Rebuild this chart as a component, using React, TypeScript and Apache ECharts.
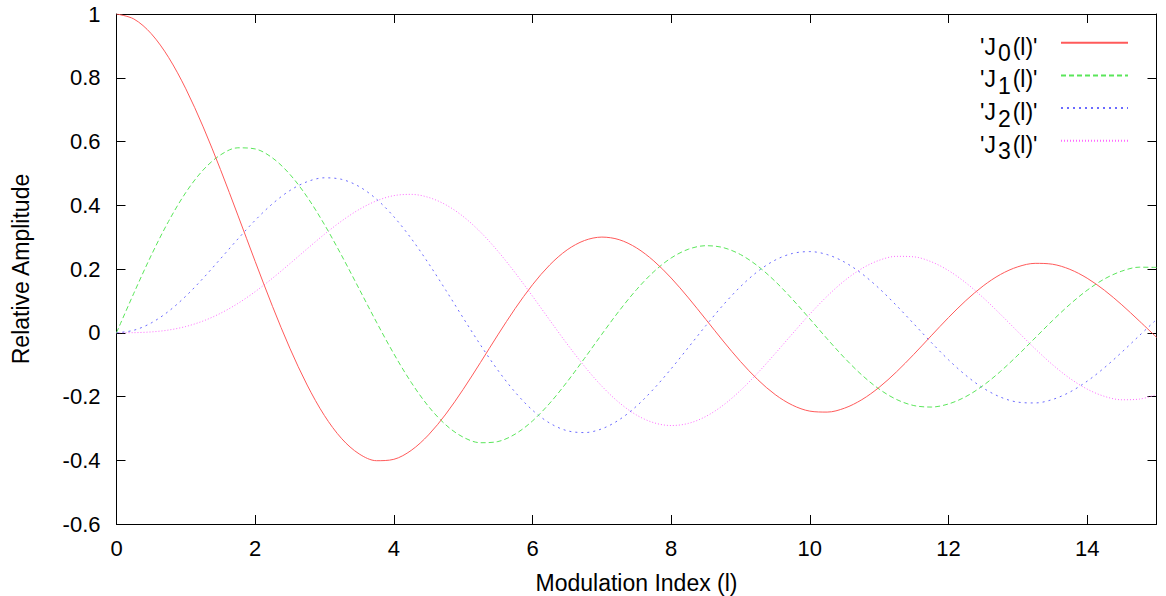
import React, { useEffect, useRef } from "react";
import * as echarts from "echarts";

const xValues = [
  0, 0.25, 0.5, 0.75, 1, 1.25, 1.5, 1.75, 2, 2.25, 2.5, 2.75, 3, 3.25, 3.5, 3.75,
  4, 4.25, 4.5, 4.75, 5, 5.25, 5.5, 5.75, 6, 6.25, 6.5, 6.75, 7, 7.25, 7.5, 7.75,
  8, 8.25, 8.5, 8.75, 9, 9.25, 9.5, 9.75, 10, 10.25, 10.5, 10.75, 11, 11.25, 11.5, 11.75,
  12, 12.25, 12.5, 12.75, 13, 13.25, 13.5, 13.75, 14, 14.25, 14.5, 14.75, 15,
];

const j0 = [
  1.0, 0.9844, 0.9385, 0.8642, 0.7652, 0.6459, 0.5118, 0.369, 0.2239, 0.0827, -0.0484, -0.1641,
  -0.2601, -0.3327, -0.3801, -0.4014, -0.3971, -0.3692, -0.3205, -0.2551, -0.1776, -0.0931, -0.0068, 0.076,
  0.1506, 0.2131, 0.2601, 0.2894, 0.3001, 0.292, 0.2663, 0.2252, 0.1717, 0.1092, 0.0419, -0.0259,
  -0.0903, -0.1474, -0.1939, -0.2273, -0.2459, -0.2489, -0.2366, -0.21, -0.1712, -0.1226, -0.0677, -0.0097,
  0.0477, 0.1009, 0.1469, 0.1829, 0.2069, 0.2177, 0.215, 0.199, 0.1711, 0.1331, 0.0876, 0.0374, -0.0142,
];

const j1 = [
  0, 0.124, 0.2423, 0.3492, 0.4401, 0.5106, 0.5579, 0.5802, 0.5767, 0.5484, 0.4971, 0.426,
  0.3391, 0.2411, 0.1374, 0.0332, -0.066, -0.1555, -0.2311, -0.2891, -0.3276, -0.345, -0.3414, -0.3179,
  -0.2767, -0.2207, -0.1538, -0.0803, -0.0047, 0.0686, 0.1352, 0.1916, 0.2346, 0.2622, 0.2731, 0.2672,
  0.2453, 0.2091, 0.1613, 0.1048, 0.0435, -0.019, -0.0789, -0.1325, -0.1768, -0.2093, -0.2284, -0.2331,
  -0.2234, -0.2003, -0.1655, -0.1212, -0.0703, -0.0161, 0.0381, 0.0889, 0.1334, 0.1689, 0.1934, 0.2057, 0.2051,
];

const j2 = [
  0, 0.0078, 0.0306, 0.0671, 0.1149, 0.1711, 0.2321, 0.294, 0.3528, 0.4047, 0.4461, 0.4739,
  0.4861, 0.4811, 0.4586, 0.4191, 0.3641, 0.296, 0.2178, 0.1334, 0.0466, -0.0383, -0.1173, -0.1865,
  -0.2429, -0.2837, -0.3074, -0.3132, -0.3014, -0.273, -0.2303, -0.1758, -0.113, -0.0456, 0.0223, 0.087,
  0.1448, 0.1926, 0.2279, 0.2488, 0.2546, 0.2452, 0.2216, 0.1854, 0.139, 0.0854, 0.0279, -0.03,
  -0.0849, -0.1336, -0.1734, -0.2019, -0.2177, -0.2202, -0.2094, -0.1861, -0.152, -0.1094, -0.0609, -0.0095, 0.0416,
];

const j3 = [
  0, 0.0003, 0.0026, 0.0085, 0.0196, 0.0369, 0.061, 0.0918, 0.1289, 0.1711, 0.2166, 0.2634,
  0.3091, 0.351, 0.3868, 0.4138, 0.4302, 0.4341, 0.4247, 0.4014, 0.3648, 0.3158, 0.2561, 0.1881,
  0.1148, 0.0391, -0.0354, -0.1053, -0.1676, -0.2192, -0.2581, -0.2823, -0.2911, -0.2843, -0.2626, -0.2274,
  -0.1809, -0.1258, -0.0653, -0.0028, 0.0584, 0.1147, 0.1633, 0.2014, 0.2273, 0.2397, 0.2382, 0.2229,
  0.1951, 0.1567, 0.11, 0.0578, 0.0033, -0.0503, -0.1001, -0.143, -0.1768, -0.1996, -0.2102, -0.2083, -0.194,
];

const seriesNames = ["'J0(l)'", "'J1(l)'", "'J2(l)'", "'J3(l)'"];
const legendParts = [
  ["'J", "0", "(l)'"],
  ["'J", "1", "(l)'"],
  ["'J", "2", "(l)'"],
  ["'J", "3", "(l)'"],
];
const seriesValues = [j0, j1, j2, j3];
const seriesColors = ["#ff5a5a", "#5ae65a", "#6a6aff", "#ff6aff"];
const seriesDash: (string | number[])[] = ["solid", [5, 3], [2, 4], [1, 2]];

const xTitle = "Modulation Index (l)";
const yTitle = "Relative Amplitude";

const FONT = "'Liberation Sans', Arial, Helvetica, sans-serif";
const LEG_FS = 23;

function measure(text: string, size: number): number {
  const c = document.createElement("canvas");
  const ctx = c.getContext("2d");
  if (!ctx) return text.length * size * 0.5;
  ctx.font = `${size}px ${FONT}`;
  return ctx.measureText(text).width;
}

export default function App() {
  const ref = useRef<HTMLDivElement>(null);

  useEffect(() => {
    if (!ref.current) return;
    const chart = echarts.init(ref.current, undefined, { renderer: "svg" });

    const axisLine = { show: true, onZero: false, lineStyle: { color: "#000", width: 1 } };
    const axisTick = { show: true, inside: true, length: 9, lineStyle: { color: "#000", width: 1 } };

    // legend geometry (line samples centred at firstCenter + k * legStep)
    const firstCenter = 42.7;
    const legStep = 32.7;
    const legSymbolH = 14 * 0.8; // bounding height of a legend item
    const legTextX = 980;

    const legendTexts: any[] = [];
    legendParts.forEach((parts, k) => {
      const c = firstCenter + k * legStep;
      const w1 = measure(parts[0], LEG_FS);
      const w2 = measure(parts[1], LEG_FS);
      const xs = [legTextX, legTextX + w1 + 2, legTextX + w1 + 2 + w2 + 2];
      const ys = [c + 4, c + 10.5, c + 4];
      parts.forEach((p, j) => {
        legendTexts.push({
          type: "text",
          x: xs[j],
          y: ys[j],
          silent: true,
          style: {
            text: p,
            fill: "#000",
            fontSize: LEG_FS,
            fontFamily: FONT,
            align: "left",
            verticalAlign: "middle",
          },
        });
      });
    });

    const option = {
      animation: false,
      backgroundColor: "#fff",
      grid: {
        left: 116.5,
        right: 9.5,
        top: 14,
        bottom: 72,
        containLabel: false,
        outerBoundsMode: "none",
      },
      legend: {
        data: seriesNames,
        orient: "vertical",
        align: "right",
        right: 37,
        top: firstCenter - legSymbolH / 2,
        padding: 0,
        itemWidth: 67,
        itemHeight: 14,
        itemGap: legStep - legSymbolH,
        selectedMode: false,
        itemStyle: { opacity: 0 },
        textStyle: { fontSize: 1, color: "rgba(0,0,0,0)" },
        formatter: () => " ",
      },
      graphic: legendTexts,
      xAxis: [
        {
          type: "value",
          min: 0,
          max: 15,
          interval: 2,
          position: "bottom",
          axisLine,
          axisTick,
          splitLine: { show: false },
          axisLabel: { margin: 13, fontSize: 22, color: "#000", fontFamily: FONT, showMaxLabel: false },
          name: xTitle,
          nameLocation: "middle",
          nameGap: 47,
          nameTextStyle: { fontSize: 23, color: "#000", fontFamily: FONT },
        },
        {
          type: "value",
          min: 0,
          max: 15,
          interval: 2,
          position: "top",
          axisLine,
          axisTick,
          splitLine: { show: false },
          axisLabel: { show: false },
        },
      ],
      yAxis: [
        {
          type: "value",
          min: -0.6,
          max: 1,
          interval: 0.2,
          position: "left",
          axisLine,
          axisTick,
          splitLine: { show: false },
          axisLabel: { margin: 16, fontSize: 22, color: "#000", fontFamily: FONT },
          name: yTitle,
          nameLocation: "middle",
          nameGap: 84,
          nameTextStyle: { fontSize: 23, color: "#000", fontFamily: FONT },
        },
        {
          type: "value",
          min: -0.6,
          max: 1,
          interval: 0.2,
          position: "right",
          axisLine,
          axisTick,
          splitLine: { show: false },
          axisLabel: { show: false },
        },
      ],
      series: seriesNames.map((name, k) => ({
        type: "line",
        name,
        xAxisIndex: 0,
        yAxisIndex: 0,
        data: xValues.map((x, i) => [x, seriesValues[k][i]]),
        showSymbol: false,
        symbol: "none",
        smooth: 0.33,
        lineStyle: { color: seriesColors[k], width: 1, type: seriesDash[k] },
        itemStyle: { color: seriesColors[k] },
        emphasis: { disabled: true },
        z: 2 + (3 - k),
      })),
    };

    chart.setOption(option as any);
    return () => chart.dispose();
  }, []);

  return (
    <div
      ref={ref}
      style={{ position: "absolute", left: 0, top: 0, width: 1166, height: 596, background: "#fff" }}
    />
  );
}
